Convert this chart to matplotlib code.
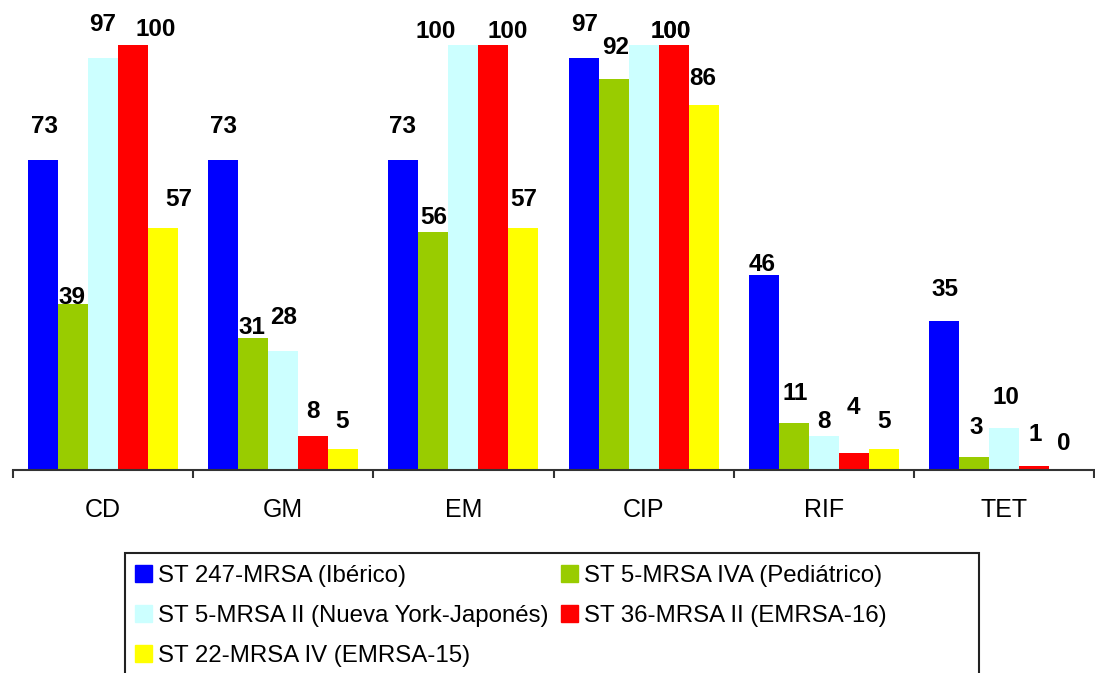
import numpy as np
import matplotlib.pyplot as plt
from matplotlib.patches import Patch, Rectangle

plt.rcParams['font.family'] = ['Liberation Sans', 'DejaVu Sans']

# antibióticos y porcentaje de resistencia por clon
categorias = ["CD", "GM", "EM", "CIP", "RIF", "TET"]
clones = ["ST 247-MRSA (Ibérico)",
          "ST 5-MRSA IVA (Pediátrico)",
          "ST 5-MRSA II (Nueva York-Japonés)",
          "ST 36-MRSA II (EMRSA-16)",
          "ST 22-MRSA IV (EMRSA-15)"]
st247 = [73, 73, 73, 97, 46, 35]
st5_iva = [39, 31, 56, 92, 11, 3]
st5_ii = [97, 28, 100, 100, 8, 10]
st36 = [100, 8, 100, 100, 4, 1]
st22 = [57, 5, 57, 86, 5, 0]
series = [st247, st5_iva, st5_ii, st36, st22]
colores = ["#0000FF", "#99CC00", "#CCFFFF", "#FF0000", "#FFFF00"]

# desplazamiento de cada etiqueta (px) respecto al centro/techo de su barra
dx = [[1, 0, -1, 1, -2, 1],
      [-1, -1, 0, 2, 1, 2],
      [0, 0, -28, 27, 0, 2],
      [23, 0, 14, -3, 0, 1],
      [16, -1, 0, -1, 0, 0]]
dy = [[33, 33, 33, 33, 10, 32],
      [7, 11, 14, 32, 30, 30],
      [33, 33, 13, 13, 14, 30],
      [16, 24, 13, 13, 46, 31],
      [28, 27, 28, 26, 27, 26]]

W, H = 1095, 673
fig = plt.figure(figsize=(W / 100, H / 100), dpi=100)
ax = fig.add_axes([13 / W, (H - 470) / H, (1094 - 13) / W, 425 / H])

x = np.arange(len(categorias))
ancho = 1 / 6
for j, (vals, col) in enumerate(zip(series, colores)):
    pos = x + (j - 2) * ancho
    ax.bar(pos, vals, width=ancho, color=col, lw=0, label=clones[j])
    for i, v in enumerate(vals):
        ax.annotate(f"{v}", (pos[i], v), xytext=(dx[j][i], dy[j][i]),
                    textcoords="offset pixels", ha="center", va="center",
                    fontsize=17.5, fontweight="bold", color="black",
                    annotation_clip=False)

ax.set_xlim(-0.5, len(categorias) - 0.5)
ax.set_ylim(0, 100)
for s in ("top", "right", "left"):
    ax.spines[s].set_visible(False)
ax.spines["bottom"].set_color("#333333")
ax.spines["bottom"].set_linewidth(1.5)
ax.set_yticks([])
ax.set_xticks(np.arange(-0.5, len(categorias)), minor=False)
ax.set_xticklabels([])
ax.tick_params(axis="x", which="major", direction="out", length=6,
               width=1.5, color="#333333")
ax.set_xticks(x, minor=True)
ax.set_xticklabels(categorias, minor=True, fontsize=18)
ax.tick_params(axis="x", which="minor", length=0, pad=20)

# marco de la leyenda (más ancho que su contenido, cortado abajo)
fig.patches.append(Rectangle((125 / W, -0.05), (979 - 125) / W, 0.05 + (H - 553) / H,
                             transform=fig.transFigure, fill=False,
                             edgecolor="#222222", lw=1.5))

handles = [Patch(color=c, label=l) for c, l in zip(colores, clones)]
orden = [0, 2, 4, 1, 3]
leg = fig.legend([handles[k] for k in orden], [clones[k] for k in orden],
                 loc="upper left", bbox_to_anchor=(135 / W, 1 - 565 / H),
                 ncol=2, fontsize=17.3, frameon=False,
                 borderaxespad=0, borderpad=0, labelspacing=0.75,
                 handlelength=0.72, handleheight=0.72, handletextpad=0.25,
                 columnspacing=0.5)

fig.savefig("out.png", dpi=100)
